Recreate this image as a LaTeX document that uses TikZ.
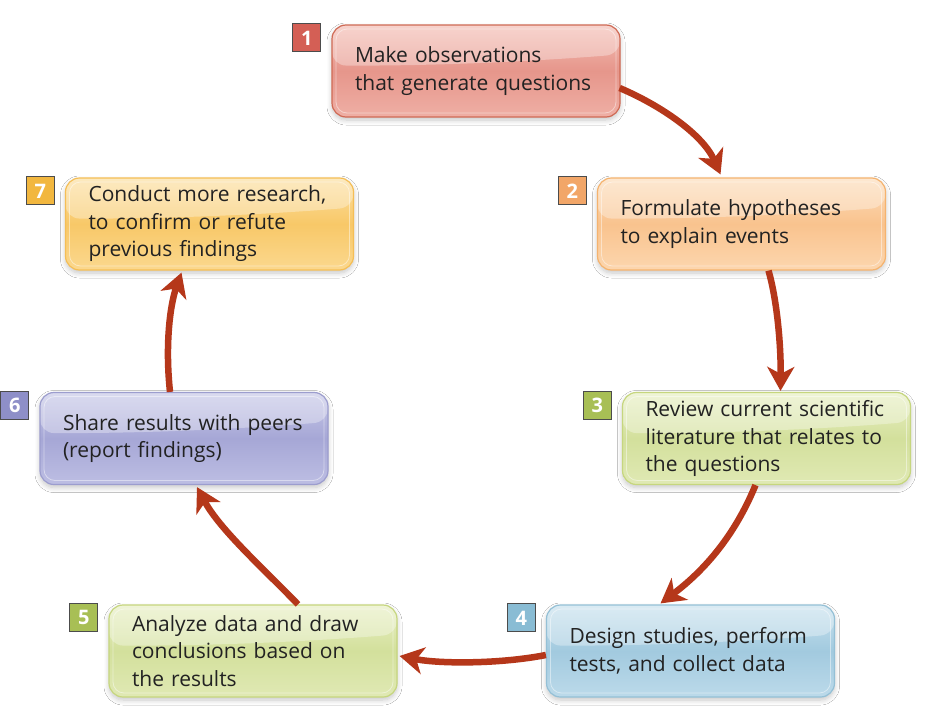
\documentclass[tikz,border=0pt]{standalone}
\usepackage{fontspec}
\setmainfont{Open Sans}
\usetikzlibrary{arrows.meta,calc,shadows.blur}
% box colours
\definecolor{redtop}{HTML}{F4BEB5}\definecolor{redmid}{HTML}{E6968B}\definecolor{redbot}{HTML}{EFAFA5}\definecolor{redborder}{HTML}{CF6A55}\definecolor{redbadge}{HTML}{D45F55}
\definecolor{orangetop}{HTML}{FDDDBB}\definecolor{orangemid}{HTML}{F9C38E}\definecolor{orangebot}{HTML}{FCD6AE}\definecolor{orangeborder}{HTML}{F5B36E}\definecolor{orangebadge}{HTML}{F2A668}
\definecolor{greentop}{HTML}{E8EFC4}\definecolor{greenmid}{HTML}{D3E09C}\definecolor{greenbot}{HTML}{E0E9B4}\definecolor{greenborder}{HTML}{C6D67E}\definecolor{greenbadge}{HTML}{A8BF55}
\definecolor{bluetop}{HTML}{C9E2EE}\definecolor{bluemid}{HTML}{A2CADF}\definecolor{bluebot}{HTML}{BCDAEA}\definecolor{blueborder}{HTML}{94C0D6}\definecolor{bluebadge}{HTML}{89BCD4}
\definecolor{lavtop}{HTML}{C8C9E8}\definecolor{lavmid}{HTML}{A6A7D6}\definecolor{lavbot}{HTML}{BDBEE3}\definecolor{lavborder}{HTML}{9C9DCE}\definecolor{lavbadge}{HTML}{8E8FC8}
\definecolor{yeltop}{HTML}{FCE0A2}\definecolor{yelmid}{HTML}{F8C868}\definecolor{yelbot}{HTML}{FBD88E}\definecolor{yelborder}{HTML}{F5BE55}\definecolor{yelbadge}{HTML}{F2B73F}
\definecolor{arrowred}{HTML}{B5371A}
\definecolor{txt}{HTML}{222222}
\tikzset{
  stepbox/.style={rounded corners=14pt, minimum width=288pt, minimum height=92pt,
    text width=242pt, align=left, inner xsep=23pt, inner ysep=0pt,
    font=\fontsize{21}{27.5}\selectfont, text=txt, line width=1.2pt,
    draw=#1border, top color=#1top, bottom color=#1bot, middle color=#1mid,
    blur shadow={shadow xshift=0pt, shadow yshift=-3pt, shadow blur radius=5pt, shadow blur steps=8, shadow opacity=22},
    path picture={
      \coordinate (hA) at ($(path picture bounding box.north west)!0.44!(path picture bounding box.south west)$);
      \coordinate (hB) at ($(path picture bounding box.north east)!0.32!(path picture bounding box.south east)$);
      \fill[white,opacity=0.32] (path picture bounding box.north west) -- (hA)
        .. controls ($(hA)!0.4!(hB)+(0,5)$) and ($(hA)!0.75!(hB)+(0,3)$) .. (hB)
        -- (path picture bounding box.north east) -- cycle;
      \draw[white,opacity=0.45,line width=0.8pt,rounded corners=11pt]
        ($(path picture bounding box.north west)+(4,4)$) rectangle ($(path picture bounding box.south east)+(-4,-4)$);
    }},
  badge/.style={draw=black!70, line width=0.9pt, fill=#1badge, minimum size=28pt, inner sep=0pt,
    text=white, font=\fontsize{20}{20}\selectfont\bfseries},
  arr/.style={draw=arrowred, line width=6.5pt, -{Stealth[length=24pt,width=27pt,inset=7pt]}}
}
\begin{document}
\begin{tikzpicture}[x=1pt,y=-1pt]
\fill[white] (0,0) rectangle (935,723);
\useasboundingbox (0,0) rectangle (935,723);

\node[stepbox=red]    (b1) at (476,71)    {Make observations\\that generate questions};
\node[stepbox=orange] (b2) at (741.5,224) {Formulate hypotheses\\to explain events};
\node[stepbox=green]  (b3) at (766.5,438.5){Review current scientific\\literature that relates to\\the questions};
\node[stepbox=blue]   (b4) at (690.5,651) {Design studies, perform\\tests, and collect data};
\node[stepbox=green]  (b5) at (253,651)   {Analyze data and draw\\conclusions based on\\the results};
\node[stepbox=lav]    (b6) at (184,438.5) {Share results with peers\\(report findings)};
\node[stepbox=yel]    (b7) at (209.5,224) {Conduct more research,\\to confirm or refute\\previous findings};

\node[badge=red]    (n1) at ($(b1.north west)+(-24.5,13.5)$) {1};
\node[badge=orange] (n2) at ($(b2.north west)+(-24.5,13.5)$) {2};
\node[badge=green]  (n3) at ($(b3.north west)+(-24.5,13.5)$) {3};
\node[badge=blue]   (n4) at ($(b4.north west)+(-24.5,13.5)$) {4};
\node[badge=green]  (n5) at ($(b5.north west)+(-24.5,13.5)$) {5};
\node[badge=lav]    (n6) at ($(b6.north west)+(-24.5,13.5)$) {6};
\node[badge=yel]    (n7) at ($(b7.north west)+(-24.5,13.5)$) {7};

\draw[arr] ($(b1.east)+(-1,17)$) .. controls (662,106) and (703,135) .. ($(b2.north)+(-21,-3)$);
\draw[arr] ($(b2.south)+(27,0)$) .. controls (777,300) and (781,345) .. ($(b3.north)+(14,-1)$);
\draw[arr] ($(b3.south)+(-11,0)$) .. controls (735,535) and (705,570) .. ($(b4.north)+(-30,-1)$);
\draw[arr] ($(b4.west)+(0,4)$) .. controls (500,664) and (440,664) .. ($(b5.east)+(2,5)$);
\draw[arr] ($(b5.north)+(45,0)$) .. controls (265,570) and (220,530) .. ($(b6.south)+(13,2)$);
\draw[arr] ($(b6.north)+(-14,0)$) .. controls (165,345) and (170,305) .. ($(b7.south)+(-28,2)$);
\end{tikzpicture}
\end{document}
